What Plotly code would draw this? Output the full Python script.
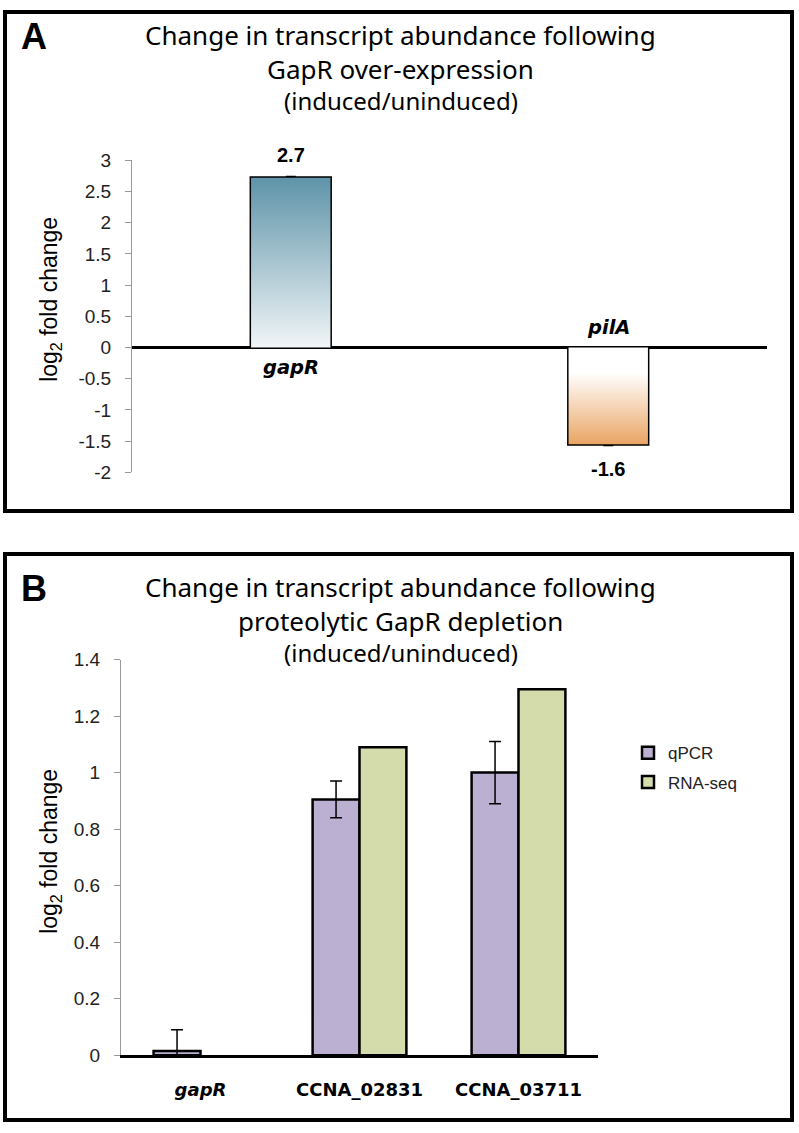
import plotly.graph_objects as go

W, H = 799, 1133

# ---------------- data ----------------
genes_a = ["gapR", "pilA"]
values_a = [2.72, -1.55]
errors_a = [0.01, 0.01]
labels_a = ["2.7", "-1.6"]
ytick_vals_a = [3, 2.5, 2, 1.5, 1, 0.5, 0, -0.5, -1, -1.5, -2]
ytick_text_a = ["3", "2.5", "2", "1.5", "1", "0.5", "0", "-0.5", "-1", "-1.5", "-2"]

genes_b = ["gapR", "CCNA_02831", "CCNA_03711"]
genes_b_text = ["<b><i>gapR</i></b>", "<b>CCNA_02831</b>", "<b>CCNA_03711</b>"]
qpcr_vals = [0.015, 0.905, 1.0]
qpcr_err = [0.075, 0.065, 0.11]
rnaseq_vals = [None, 1.09, 1.295]
ytick_vals_b = [0, 0.2, 0.4, 0.6, 0.8, 1.0, 1.2, 1.4]
ytick_text_b = ["0", "0.2", "0.4", "0.6", "0.8", "1", "1.2", "1.4"]

BAR_W_A = 0.25
grad_a = [
    [[0, "#f4f7f9"], [1, "#5f94a9"]],          # gapR: white bottom -> steel blue top
    [[0, "#e89e58"], [0.78, "#ffffff"], [1, "#ffffff"]],  # pilA: orange bottom -> white top
]


def px_x(p):
    return p / W


def _ylayout(p):
    # vertical pixel in the page, compensating the capture's slight vertical offset
    q = (p - 9.1) / 0.985
    return min(max(q, 2), H - 2)


def px_y(p):
    return 1 - _ylayout(p) / H


fig = go.Figure()

# ---------------- panel A ----------------
for i, (g, v) in enumerate(zip(genes_a, values_a)):
    x0, x1 = i - BAR_W_A / 2, i + BAR_W_A / 2
    lo, hi = min(0, v), max(0, v)
    fig.add_trace(go.Scatter(
        x=[x0, x1, x1, x0, x0], y=[0, 0, v, v, 0],
        mode="lines", line=dict(width=0), fill="toself",
        fillgradient=dict(type="vertical", colorscale=grad_a[i], start=lo, stop=hi),
        hoverinfo="skip", showlegend=False, xaxis="x", yaxis="y"))

fig.add_trace(go.Bar(
    x=list(range(len(genes_a))), y=values_a, width=BAR_W_A,
    marker=dict(color="rgba(0,0,0,0)", line=dict(color="black", width=3)),
    error_y=dict(type="data", array=errors_a, color="black", thickness=3, width=5),
    showlegend=False, xaxis="x", yaxis="y"))

# ---------------- panel B ----------------
fig.add_trace(go.Bar(
    x=genes_b, y=qpcr_vals, name="qPCR", legendgroup="q",
    marker=dict(color="#bbb0d1", line=dict(color="black", width=2.5)),
    error_y=dict(type="data", array=qpcr_err, color="black", thickness=1.5, width=6),
    xaxis="x2", yaxis="y2"))
fig.add_trace(go.Bar(
    x=genes_b, y=rnaseq_vals, name="RNA-seq", legendgroup="r",
    marker=dict(color="#d4dcac", line=dict(color="black", width=2.5)),
    xaxis="x2", yaxis="y2"))

tickfont = dict(family="Liberation Sans", size=19, color="#222")

fig.update_layout(
    width=W, height=H,
    margin=dict(l=0, r=0, t=0, b=0),
    paper_bgcolor="white", plot_bgcolor="white",
    font=dict(family="Liberation Sans", color="black"),
    barmode="group", bargap=0.41, bargroupgap=0,
    showlegend=True,
    legend=dict(x=px_x(628), y=px_y(737), xanchor="left", yanchor="top",
                font=dict(family="Liberation Sans", size=17, color="#222"),
                tracegroupgap=4, traceorder="grouped", bgcolor="rgba(0,0,0,0)"),
    xaxis=dict(domain=[px_x(132), px_x(767)], range=[-0.5, 1.5], anchor="y",
               showticklabels=False, showgrid=False, zeroline=False, showline=False),
    yaxis=dict(domain=[px_y(473), px_y(160)], range=[-2, 3], anchor="x",
               tickvals=ytick_vals_a, ticktext=ytick_text_a, tickfont=tickfont,
               ticklabelstandoff=10,
               showgrid=False, showline=True, linecolor="#999", linewidth=1,
               ticks="outside", ticklen=6, tickcolor="#999",
               zeroline=True, zerolinecolor="black", zerolinewidth=3),
    xaxis2=dict(domain=[px_x(121), px_x(598)], range=[-0.5, 2.5], anchor="y2",
                type="category", categoryarray=genes_b,
                tickvals=genes_b, ticktext=genes_b_text,
                tickfont=dict(family="DejaVu Sans", size=18, color="black"),
                ticks="", ticklabelstandoff=17,
                showgrid=False, zeroline=False, showline=True,
                linecolor="black", linewidth=2.5),
    yaxis2=dict(domain=[px_y(1058), px_y(661)], range=[0, 1.4], anchor="x2",
                tickvals=ytick_vals_b, ticktext=ytick_text_b, tickfont=tickfont,
                ticklabelstandoff=10,
                showgrid=False, showline=True, linecolor="#999", linewidth=1,
                ticks="outside", ticklen=6, tickcolor="#999", zeroline=False),
)

ann = []
title_font = dict(family="Noto Sans", size=26, color="black")
sub_font = dict(family="Noto Sans", size=24, color="black")
ytitle_font = dict(family="Liberation Sans", size=23, color="black")
# panel A titles
ann += [
    dict(text="A", x=px_x(34), y=px_y(36), font=dict(family="Liberation Sans", size=36, color="black", weight="bold")),
    dict(text="Change in transcript abundance following", x=px_x(400), y=px_y(34), font=title_font),
    dict(text="GapR over-expression", x=px_x(400), y=px_y(68), font=title_font),
    dict(text="(induced/uninduced)", x=px_x(401), y=px_y(100), font=sub_font),
    dict(text="log<sub>2</sub> fold change", x=px_x(51), y=px_y(299), textangle=-90, font=ytitle_font),
]
# panel B titles
ann += [
    dict(text="B", x=px_x(34), y=px_y(590), font=dict(family="Liberation Sans", size=36, color="black", weight="bold")),
    dict(text="Change in transcript abundance following", x=px_x(400), y=px_y(588), font=title_font),
    dict(text="proteolytic GapR depletion", x=px_x(400), y=px_y(622), font=title_font),
    dict(text="(induced/uninduced)", x=px_x(401), y=px_y(654), font=sub_font),
    dict(text="log<sub>2</sub> fold change", x=px_x(51), y=px_y(853), textangle=-90, font=ytitle_font),
]
for a in ann:
    a.update(xref="paper", yref="paper", showarrow=False, xanchor="center", yanchor="middle")

# data-driven labels in panel A
for i, (g, v, lab) in enumerate(zip(genes_a, values_a, labels_a)):
    pos = v >= 0
    ann.append(dict(text=lab, x=i, y=v, xref="x", yref="y", showarrow=False,
                    yanchor="middle", yshift=23 if pos else -25,
                    font=dict(family="Liberation Sans", size=20, color="black", weight="bold")))
    ann.append(dict(text=f"<b><i>{g}</i></b>", x=i, y=0, xref="x", yref="y", showarrow=False,
                    yanchor="middle", yshift=-20 if pos else 20,
                    font=dict(family="DejaVu Sans", size=19.5, color="black")))

fig.update_layout(annotations=ann)

fig.update_layout(shapes=[
    dict(type="rect", xref="paper", yref="paper", x0=px_x(5), x1=px_x(792),
         y0=px_y(512), y1=px_y(5), line=dict(color="black", width=4)),
    dict(type="rect", xref="paper", yref="paper", x0=px_x(5), x1=px_x(792),
         y0=px_y(1130), y1=px_y(555), line=dict(color="black", width=4)),
])

fig.write_html(
    "out.html",
    config={"displayModeBar": False},
    post_script=(
        "document.documentElement.style.margin='0';"
        "document.body.style.margin='0';"
        "var d=document.getElementById('{plot_id}');"
        "d.style.position='fixed';d.style.left='0px';d.style.top='0px';"
    ),
)
